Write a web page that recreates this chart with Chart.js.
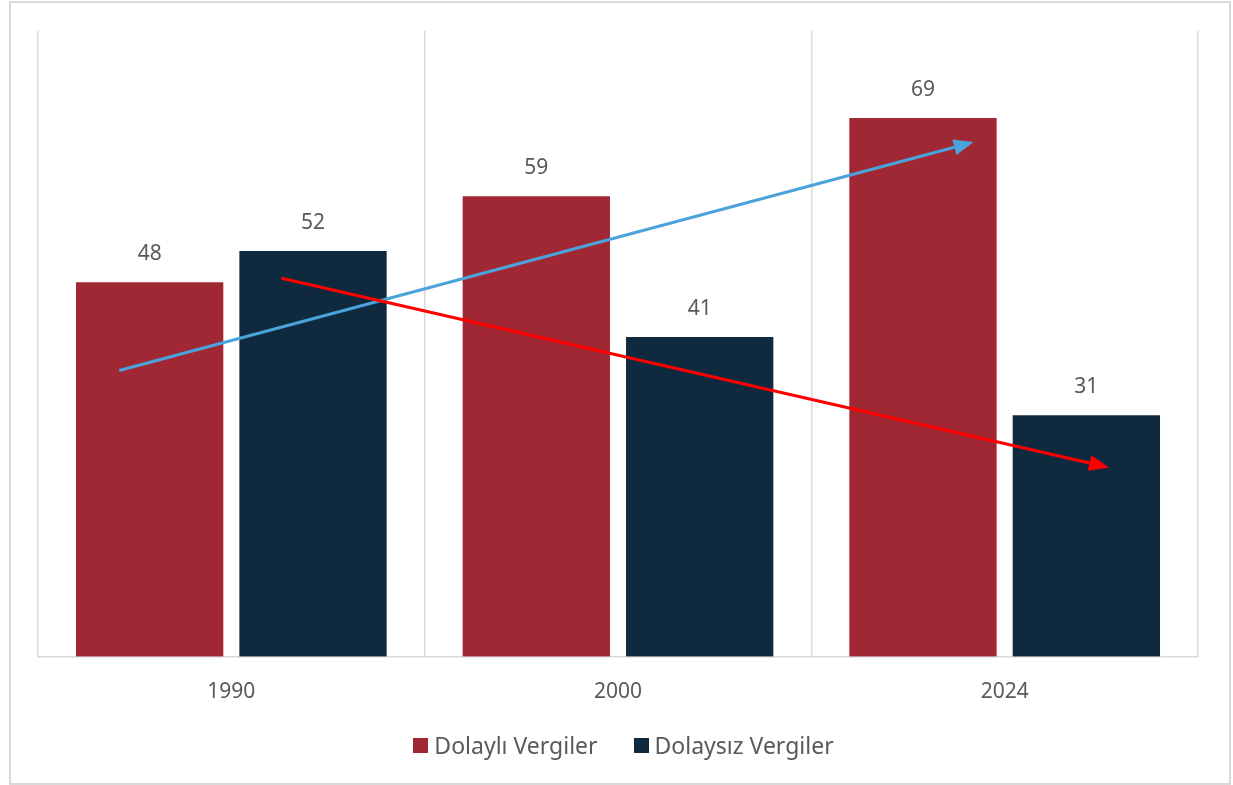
<!DOCTYPE html>
<html>
<head>
<meta charset="utf-8">
<script src="https://cdn.jsdelivr.net/npm/chart.js@4"></script>
<style>
  html, body { margin: 0; padding: 0; background: #fff; }
  #frame { position: absolute; left: 9px; top: 1px; width: 1218px; height: 780px; border: 2px solid #d9d9d9; }
  #wrap { position: absolute; left: 0; top: 0; width: 1233px; height: 785px; }
  #legend { position: absolute; left: 14px; top: 730px; width: 1219px; display: flex; justify-content: center;
            font-family: 'Noto Sans', sans-serif; font-size: 23px; color: #595959; line-height: 30px; }
  #legend .item { display: flex; align-items: center; margin: 0 18px; }
  #legend .box { width: 15px; height: 15px; margin-right: 6px; }
</style>
</head>
<body>
<div id="frame"></div>
<div id="wrap"><canvas id="chart" width="1233" height="785"></canvas></div>
<div id="legend"></div>
<script>
const years = ['1990', '2000', '2024'];
const dolayliVergiler = [48, 59, 69];
const dolaysizVergiler = [52, 41, 31];
// trend arrows: [category index, value] start and end
const blueArrow = [[-0.29, 36.6], [1.92, 65.8]];
const redArrow = [[0.13, 48.4], [2.27, 24.2]];

const textColor = '#595959';
const fontFamily = "'Noto Sans', sans-serif";

const barLabels = {
  id: 'barLabels',
  afterDatasetsDraw(chart) {
    const ctx = chart.ctx;
    ctx.save();
    ctx.fillStyle = textColor;
    ctx.font = `21px ${fontFamily}`;
    ctx.textAlign = 'center';
    ctx.textBaseline = 'middle';
    chart.data.datasets.forEach((ds, i) => {
      chart.getDatasetMeta(i).data.forEach((bar, j) => {
        ctx.fillText(ds.data[j], bar.x, bar.y - 27);
      });
    });
    ctx.restore();
  }
};

function drawArrow(ctx, x1, y1, x2, y2, color) {
  const ang = Math.atan2(y2 - y1, x2 - x1);
  const headLen = 20, headW = 8;
  const bx = x2 - headLen * Math.cos(ang);
  const by = y2 - headLen * Math.sin(ang);
  ctx.strokeStyle = color;
  ctx.fillStyle = color;
  ctx.lineWidth = 3;
  ctx.beginPath();
  ctx.moveTo(x1, y1);
  ctx.lineTo(bx, by);
  ctx.stroke();
  ctx.beginPath();
  ctx.moveTo(x2, y2);
  ctx.lineTo(bx + headW * Math.sin(ang), by - headW * Math.cos(ang));
  ctx.lineTo(bx - headW * Math.sin(ang), by + headW * Math.cos(ang));
  ctx.closePath();
  ctx.fill();
}

const trendArrows = {
  id: 'trendArrows',
  afterDatasetsDraw(chart) {
    const { ctx, scales: { x, y } } = chart;
    ctx.save();
    [[blueArrow, '#4AA3DA'], [redArrow, '#FF0000']].forEach(([a, color]) => {
      drawArrow(ctx,
        x.getPixelForValue(a[0][0]), y.getPixelForValue(a[0][1]),
        x.getPixelForValue(a[1][0]), y.getPixelForValue(a[1][1]), color);
    });
    ctx.restore();
  }
};

const chart = new Chart(document.getElementById('chart'), {
  type: 'bar',
  data: {
    labels: years,
    datasets: [
      {
        label: 'Dolaylı Vergiler',
        data: dolayliVergiler,
        backgroundColor: '#A02835',
        borderColor: 'rgba(255,255,255,0.35)',
        borderWidth: 1
      },
      {
        label: 'Dolaysız Vergiler',
        data: dolaysizVergiler,
        backgroundColor: '#0F2A3E',
        borderColor: 'rgba(255,255,255,0.35)',
        borderWidth: 1
      }
    ]
  },
  options: {
    responsive: false,
    animation: false,
    devicePixelRatio: 1,
    categoryPercentage: 0.845,
    barPercentage: 0.914,
    layout: { padding: { left: 38, right: 35, top: 31, bottom: 57 } },
    scales: {
      x: {
        grid: { color: '#d9d9d9', lineWidth: 1.5, offset: true, drawTicks: false },
        border: { color: '#d9d9d9', width: 1.5 },
        ticks: { color: textColor, font: { family: fontFamily, size: 21 }, padding: 23 }
      },
      y: {
        display: false,
        min: 0,
        max: 80
      }
    },
    plugins: {
      legend: { display: false },
      tooltip: { enabled: false }
    }
  },
  plugins: [barLabels, trendArrows]
});

// legend as html, built from the datasets
const legendEl = document.getElementById('legend');
chart.data.datasets.forEach(ds => {
  const item = document.createElement('div');
  item.className = 'item';
  const box = document.createElement('span');
  box.className = 'box';
  box.style.background = ds.backgroundColor;
  item.appendChild(box);
  item.appendChild(document.createTextNode(ds.label));
  legendEl.appendChild(item);
});
</script>
</body>
</html>
